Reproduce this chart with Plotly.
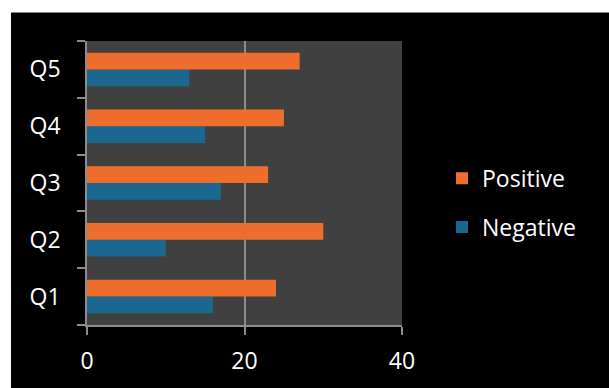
import plotly.graph_objects as go

categories = ["Q1", "Q2", "Q3", "Q4", "Q5"]
positive = [24, 30, 23, 25, 27]
negative = [16, 10, 17, 15, 13]
x_ticks = [0, 20, 40]

W, H = 609, 388
L, R, T, B = 87, 207, 41, 59
pw, ph = W - L - R, H - T - B

fig = go.Figure()
fig.add_trace(go.Bar(y=categories, x=negative, name="Negative", orientation="h",
                     marker=dict(color="#1B6790", line=dict(width=0)), legendgroup="n",
                     legendrank=2))
fig.add_trace(go.Bar(y=categories, x=positive, name="Positive", orientation="h",
                     marker=dict(color="#EE6F2D", line=dict(width=0)), legendgroup="p",
                     legendrank=1))

grey = "#8C8C8C"
fig.update_layout(
    width=W, height=H,
    margin=dict(l=L, r=R, t=T, b=B),
    paper_bgcolor="black",
    plot_bgcolor="#404040",
    barmode="group",
    bargap=0.41,
    bargroupgap=0,
    font=dict(family="Open Sans", size=23, color="white"),
    showlegend=True,
    legend=dict(x=(442 - L) / pw, y=(329 - 205) / ph, xanchor="left", yanchor="middle",
                traceorder="grouped", tracegroupgap=16, bgcolor="rgba(0,0,0,0)",
                font=dict(size=23, color="white"), itemwidth=30),
    xaxis=dict(range=[0, 40], tickvals=x_ticks, showgrid=True, gridcolor=grey, gridwidth=1.5,
               zeroline=False, showline=True, linecolor=grey, linewidth=1.5,
               ticks="outside", ticklen=8, tickcolor=grey, tickwidth=1.5,
               ticklabelstandoff=7, fixedrange=True),
    yaxis=dict(categoryorder="array", categoryarray=categories, showgrid=False,
               showline=True, linecolor=grey, linewidth=1.5, ticks="outside",
               tickson="boundaries", ticklen=8, tickcolor=grey, tickwidth=1.5,
               ticklabelstandoff=20, fixedrange=True),
    shapes=[
        dict(type="rect", xref="paper", yref="paper", x0=(0 - L) / pw, x1=(W - L) / pw,
             y0=(H - B - 12) / ph, y1=(H - B) / ph + 0.5, fillcolor="white", line_width=0, layer="below"),
        dict(type="rect", xref="paper", yref="paper", x0=(0 - L) / pw, x1=(11 - L) / pw,
             y0=-B / ph - 0.5, y1=(H - B) / ph + 0.5, fillcolor="white", line_width=0, layer="below"),
    ],
)

fig.write_html("out.html")
